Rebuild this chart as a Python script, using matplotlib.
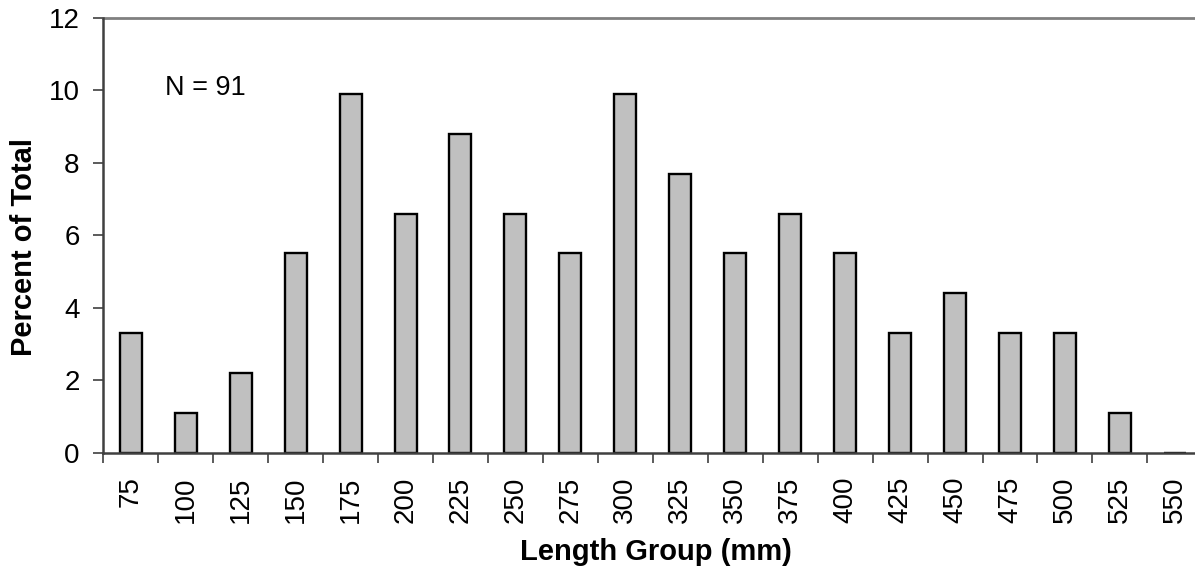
import matplotlib
matplotlib.use("Agg")
import matplotlib.pyplot as plt
import numpy as np

categories = ["75", "100", "125", "150", "175", "200", "225", "250", "275", "300",
              "325", "350", "375", "400", "425", "450", "475", "500", "525", "550"]
percent = [3.3, 1.1, 2.2, 5.5, 9.9, 6.6, 8.8, 6.6, 5.5, 9.9,
           7.7, 5.5, 6.6, 5.5, 3.3, 4.4, 3.3, 3.3, 1.1, 0.0]
y_ticks = [0, 2, 4, 6, 8, 10, 12]

plt.rcParams['font.family'] = ['Liberation Sans', 'DejaVu Sans']

W, H = 1195, 576
fig = plt.figure(figsize=(W / 100, H / 100), dpi=100)
left, right, top, bottom = 103.3, 1202.3, 17.8, 452.7
ax = fig.add_axes([left / W, 1 - bottom / H, (right - left) / W, (bottom - top) / H])

x = np.arange(len(categories))
ax.bar(x, percent, width=0.4, color="#c0c0c0", edgecolor="black", linewidth=1.7, zorder=2)

ax.set_xlim(-0.5, len(categories) - 0.5)
ax.set_ylim(0, 12)
ax.set_yticks(y_ticks)
ax.set_yticklabels([str(v) for v in y_ticks], fontsize=20)
ax.set_xticks(x)
ax.set_xticklabels(categories, rotation=90, fontsize=20)
ax.set_xticks(np.arange(len(categories)) - 0.5, minor=True)
ax.tick_params(axis='x', which='major', length=0, pad=17)
ax.tick_params(axis='x', which='minor', length=7, width=1.2, color="#404040")
ax.tick_params(axis='y', length=7, width=1.2, color="#404040", pad=10)

for s in ['left', 'bottom']:
    ax.spines[s].set_color("#404040")
    ax.spines[s].set_linewidth(1.8)
    ax.spines[s].set_zorder(3)
ax.spines['right'].set_visible(False)
ax.spines['top'].set_color("#808080")
ax.spines['top'].set_linewidth(2)

ax.set_ylabel("Percent of Total", fontsize=21, fontweight='bold', labelpad=7.5)
ax.set_xlabel("Length Group (mm)", fontsize=21, fontweight='bold', labelpad=11)
ax.yaxis.label.set_y(0.474)
ax.xaxis.label.set_x(0.503)
ax.text(0.0561, 0.8225, "N = 91", transform=ax.transAxes, fontsize=19.5, va='baseline')

fig.savefig("out.png", dpi=100)
